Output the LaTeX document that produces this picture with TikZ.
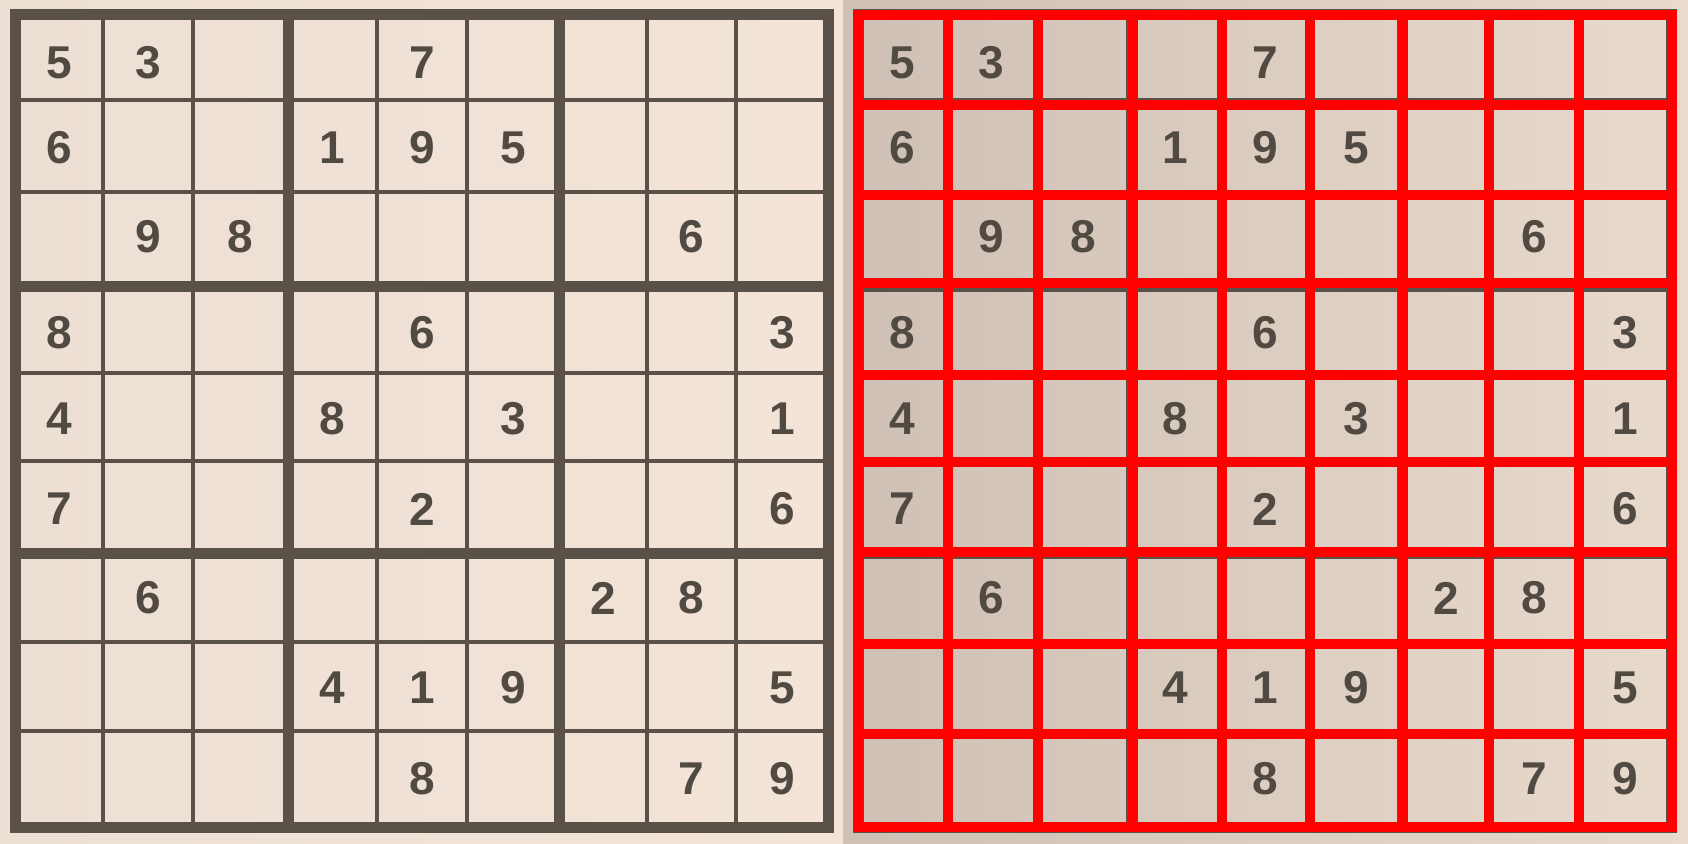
\documentclass[tikz,border=0pt]{standalone}
\usepackage{fontspec}
\setmainfont{Liberation Sans}
\usetikzlibrary{}
\definecolor{paperL}{RGB}{236,223,212}
\definecolor{paperLr}{RGB}{243,228,215}
\definecolor{paperR}{RGB}{206,192,180}
\definecolor{paperRr}{RGB}{232,218,204}
\definecolor{inkline}{RGB}{90,82,72}
\definecolor{inkdigit}{RGB}{80,74,66}
\definecolor{redline}{RGB}{255,0,0}
\tikzset{
  thinline/.style={draw=inkline, line width=4pt},
  thickline/.style={draw=inkline, line width=11pt, line cap=rect},
  redgrid/.style={draw=redline, line width=10pt, line cap=rect},
  digit/.style={inner sep=0pt, text=inkdigit, font=\fontsize{46}{46}\selectfont\bfseries},
}
\begin{document}
\begin{tikzpicture}[x=1pt,y=-1pt]
\useasboundingbox (0,0) rectangle (1688,843);
% backgrounds
\shade[left color=paperL, right color=paperLr] (0,0) rectangle (843,843);
\shade[left color=paperR, right color=paperRr] (843,0) rectangle (1688,843);
% photo grids (left original and right copy)
\foreach \dx in {0,843} {
  \foreach \x [count=\i from 0] in {15,103,193,288,377,467,559,647,736,828} {
    \pgfmathtruncatemacro\m{mod(\i,3)}
    \ifnum\m=0
      \draw[thickline] (\x+\dx,15) -- (\x+\dx,827);
    \else
      \draw[thinline] (\x+\dx,15) -- (\x+\dx,827);
    \fi
  }
  \foreach \y [count=\i from 0] in {15,100,192,286,373,461,553,642,731,827} {
    \pgfmathtruncatemacro\m{mod(\i,3)}
    \ifnum\m=0
      \draw[thickline] (15+\dx,\y) -- (828+\dx,\y);
    \else
      \draw[thinline] (15+\dx,\y) -- (828+\dx,\y);
    \fi
  }
}
% red overlay grid
\foreach \x in {858,948,1038,1133,1222,1310,1403,1489,1579,1672}
  \draw[redgrid] (\x,15) -- (\x,827);
\foreach \y in {15,105,195,283,375,462,552,644,734,827}
  \draw[redgrid] (858,\y) -- (1672,\y);
% digits
\foreach \r/\rowdata in {
  1/{5,3,0,0,7,0,0,0,0},
  2/{6,0,0,1,9,5,0,0,0},
  3/{0,9,8,0,0,0,0,6,0},
  4/{8,0,0,0,6,0,0,0,3},
  5/{4,0,0,8,0,3,0,0,1},
  6/{7,0,0,0,2,0,0,0,6},
  7/{0,6,0,0,0,0,2,8,0},
  8/{0,0,0,4,1,9,0,0,5},
  9/{0,0,0,0,8,0,0,7,9}} {
  \pgfmathsetmacro\cy{{63,148,237,333,419,509,598,688,779}[\r-1]}
  \foreach \v [count=\c] in \rowdata {
    \ifnum\v>0
      \pgfmathsetmacro\cx{{59,148,240,332,422,513,603,691,782}[\c-1]}
      \node[digit] (L-\r-\c) at (\cx,\cy) {\v};
      \node[digit] (R-\r-\c) at (\cx+843,\cy) {\v};
    \fi
  }
}
\end{tikzpicture}
\end{document}
